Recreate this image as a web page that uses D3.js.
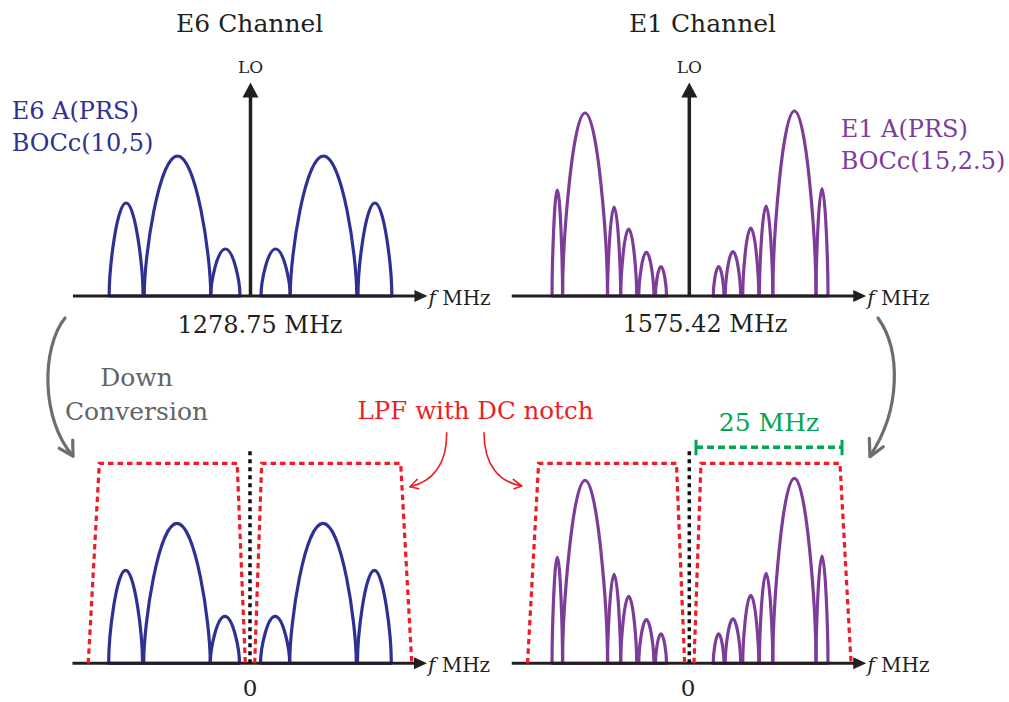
<!DOCTYPE html>
<html>
<head>
<meta charset="utf-8">
<script src="https://cdn.jsdelivr.net/npm/d3@7"></script>
<style>
  body { margin: 0; background: #fff; }
  svg { display: block; }
  text { font-family: "DejaVu Serif", serif; }
</style>
</head>
<body>
<div id="chart"></div>
<script>
// spectrum lobes: [start MHz, end MHz, relative power], offsets from the carrier
const e6Lobes = [
  [-24.2, -18.4, 0.465], [-18.2, -6.8, 0.70], [-6.8, -1.8, 0.235],
  [1.8, 6.8, 0.235], [6.8, 18.2, 0.70], [18.4, 24.2, 0.465]
];
const e1Lobes = [
  [-23.5, -21.7, 0.53], [-21.7, -14.0, 0.915], [-14.0, -11.75, 0.445],
  [-11.75, -9.0, 0.335], [-8.65, -6.05, 0.218], [-5.8, -3.9, 0.147],
  [4.1, 5.95, 0.147], [6.15, 8.8, 0.222], [9.15, 11.9, 0.34],
  [12.0, 14.3, 0.45], [14.3, 21.7, 0.925], [21.7, 23.75, 0.537]
];
// low pass filter with DC notch: [MHz, relative gain]
const lpfLower = [[-27.7, 0], [-25.8, 1], [-2.2, 1], [-0.8, 0]];
const lpfUpper = [[0.8, 0], [2.0, 1], [25.8, 1], [27.7, 0]];
const dcNotch = [[0, 0], [0, 1.075]];
const bandMarker = [1.15, 26.15];   // 25 MHz span
const bandMarkerLevel = 1.08;
const loLevel = 1.067;

const channelTitles = ["E6 Channel", "E1 Channel"];
const signalNames = [["E6 A(PRS)", "BOCc(10,5)"], ["E1 A(PRS)", "BOCc(15,2.5)"]];
const centerLabels = ["1278.75 MHz", "1575.42 MHz", "0", "0"];
const axisUnit = "MHz";

const width = 1009, height = 702;
const BLUE = "#2e3192", PURPLE = "#7d3c98", RED = "#ee1c25", GREEN = "#00a651", GRAY = "#6d6e71", INK = "#231f20";

const svg = d3.select("#chart").append("svg")
  .attr("width", width)
  .attr("height", height);

const panels = [
  { cx: 250.5, base: 296, lobes: e6Lobes, color: BLUE, lo: true, label: centerLabels[0], labelX: 260, labelY: 333, fs: 24 },
  { cx: 689.3, base: 296, lobes: e1Lobes, color: PURPLE, lo: true, label: centerLabels[1], labelX: 705, labelY: 332, fs: 24 },
  { cx: 250, base: 663.3, lobes: e6Lobes, color: BLUE, lpf: true, label: centerLabels[2], labelX: 250, labelY: 696, fs: 23 },
  { cx: 689.3, base: 663.3, lobes: e1Lobes, color: PURPLE, lpf: true, band: true, label: centerLabels[3], labelX: 688, labelY: 696, fs: 23 }
];

// arch shaped lobe, steep at the feet and round at the top
function lobePath(x, y, d) {
  const x0 = x(d[0]), x1 = x(d[1]), xm = (x0 + x1) / 2;
  const y0 = y(0), yt = y(d[2]), hw = (x1 - x0) / 2, ht = y0 - yt;
  const p = d3.path();
  p.moveTo(x0, y0);
  p.bezierCurveTo(x0, y0 - 0.3 * ht, xm - 0.55 * hw, yt, xm, yt);
  p.bezierCurveTo(xm + 0.55 * hw, yt, x1, y0 - 0.3 * ht, x1, y0);
  p.closePath();
  return p.toString();
}

const line = (x, y) => d3.line().x(d => x(d[0])).y(d => y(d[1]));

panels.forEach(pn => {
  const x = d3.scaleLinear().domain([-30, 30]).range([pn.cx - 175.2, pn.cx + 175.2]);
  const y = d3.scaleLinear().domain([0, 1]).range([pn.base, pn.base - 200]);
  const g = svg.append("g");

  g.selectAll(".lobe").data(pn.lobes).join("path")
    .attr("class", "lobe")
    .attr("d", d => lobePath(x, y, d))
    .attr("fill", "none")
    .attr("stroke", pn.color)
    .attr("stroke-width", 3.2)
    .attr("stroke-linejoin", "round");

  // frequency axis with arrow
  const tip = x(30.3);
  g.append("line")
    .attr("x1", x(-30.4)).attr("x2", tip - 8)
    .attr("y1", y(0)).attr("y2", y(0))
    .attr("stroke", INK).attr("stroke-width", 3);
  g.append("path")
    .attr("d", `M${tip},${y(0)}L${tip - 13},${y(0) - 6}L${tip - 13},${y(0) + 6}Z`)
    .attr("fill", INK);
  const unit = g.append("text")
    .attr("x", tip + 1).attr("y", y(0) + 9)
    .attr("font-size", 20).attr("fill", INK);
  unit.append("tspan").attr("font-style", "italic").text("f");
  unit.append("tspan").text(" " + axisUnit);

  g.append("text")
    .attr("x", pn.labelX).attr("y", pn.labelY)
    .attr("text-anchor", "middle")
    .attr("font-size", pn.fs).attr("fill", INK)
    .text(pn.label);

  if (pn.lo) {
    const top = y(loLevel);
    g.append("line")
      .attr("x1", x(0)).attr("x2", x(0))
      .attr("y1", y(0)).attr("y2", top + 10)
      .attr("stroke", INK).attr("stroke-width", 3.5);
    g.append("path")
      .attr("d", `M${x(0)},${top}L${x(0) - 8},${top + 15}L${x(0) + 8},${top + 15}Z`)
      .attr("fill", INK);
    g.append("text")
      .attr("x", x(0)).attr("y", top - 10)
      .attr("text-anchor", "middle")
      .attr("font-size", 17).attr("fill", INK)
      .text("LO");
  }

  if (pn.lpf) {
    [lpfLower, lpfUpper].forEach(side => {
      g.append("path")
        .attr("d", line(x, y)(side))
        .attr("fill", "none")
        .attr("stroke", RED)
        .attr("stroke-width", 3.2)
        .attr("stroke-dasharray", "5.5,4");
    });
    g.append("path")
      .attr("d", line(x, y)(dcNotch))
      .attr("fill", "none")
      .attr("stroke", "#111")
      .attr("stroke-width", 3.5)
      .attr("stroke-dasharray", "4,4");
  }

  if (pn.band) {
    const by = y(bandMarkerLevel);
    g.append("line")
      .attr("x1", x(bandMarker[0])).attr("x2", x(bandMarker[1]))
      .attr("y1", by).attr("y2", by)
      .attr("stroke", GREEN).attr("stroke-width", 3.5)
      .attr("stroke-dasharray", "7,4");
    bandMarker.forEach(v => {
      g.append("line")
        .attr("x1", x(v)).attr("x2", x(v))
        .attr("y1", by - 7.5).attr("y2", by + 8)
        .attr("stroke", GREEN).attr("stroke-width", 3);
    });
    g.append("text")
      .attr("x", (x(bandMarker[0]) + x(bandMarker[1])) / 2).attr("y", by - 16)
      .attr("text-anchor", "middle")
      .attr("font-size", 25).attr("fill", GREEN)
      .text((bandMarker[1] - bandMarker[0]).toFixed(0) + " MHz");
  }
});

// channel titles
[[249.7, channelTitles[0]], [702.5, channelTitles[1]]].forEach(([tx, t]) => {
  svg.append("text").attr("x", tx).attr("y", 32)
    .attr("text-anchor", "middle").attr("font-size", 25).attr("fill", INK).text(t);
});

// signal names
[[11.7, 119.3, signalNames[0], BLUE], [840.7, 136.7, signalNames[1], PURPLE]].forEach(([tx, ty, lines, c]) => {
  lines.forEach((t, i) => {
    svg.append("text").attr("x", tx).attr("y", ty + i * 32)
      .attr("font-size", 24).attr("fill", c).text(t);
  });
});

// down conversion arrows
const arrows = [
  { d: "M65,318C41,348 41,420 73,456", head: "M59.3,448.3L73,456L72.7,440", color: GRAY, w: 3.2 },
  { d: "M878,318C901,350 901,410 870,456", head: "M869.3,438.3L870,456.7L883.3,446.7", color: GRAY, w: 3.2 },
  { d: "M446.7,432.7C447,465 432,482 410,486.7", head: "M417.3,479.3L410,486.7L418.7,488.7", color: RED, w: 1.6 },
  { d: "M484,432.7C484,465 499,482 521.7,486", head: "M513.3,479.3L521.7,486L514,488.7", color: RED, w: 1.6 }
];
arrows.forEach(a => {
  svg.append("path").attr("d", a.d).attr("fill", "none")
    .attr("stroke", a.color).attr("stroke-width", a.w).attr("stroke-linecap", "round");
  svg.append("path").attr("d", a.head).attr("fill", "none")
    .attr("stroke", a.color).attr("stroke-width", a.w).attr("stroke-linecap", "round").attr("stroke-linejoin", "round");
});

svg.append("text").attr("x", 136.5).attr("y", 386).attr("text-anchor", "middle")
  .attr("font-size", 25).attr("fill", "#636466").text("Down");
svg.append("text").attr("x", 136.5).attr("y", 420).attr("text-anchor", "middle")
  .attr("font-size", 25).attr("fill", "#636466").text("Conversion");
svg.append("text").attr("x", 475.5).attr("y", 419).attr("text-anchor", "middle")
  .attr("font-size", 24.5).attr("fill", RED).text("LPF with DC notch");
</script>
</body>
</html>
